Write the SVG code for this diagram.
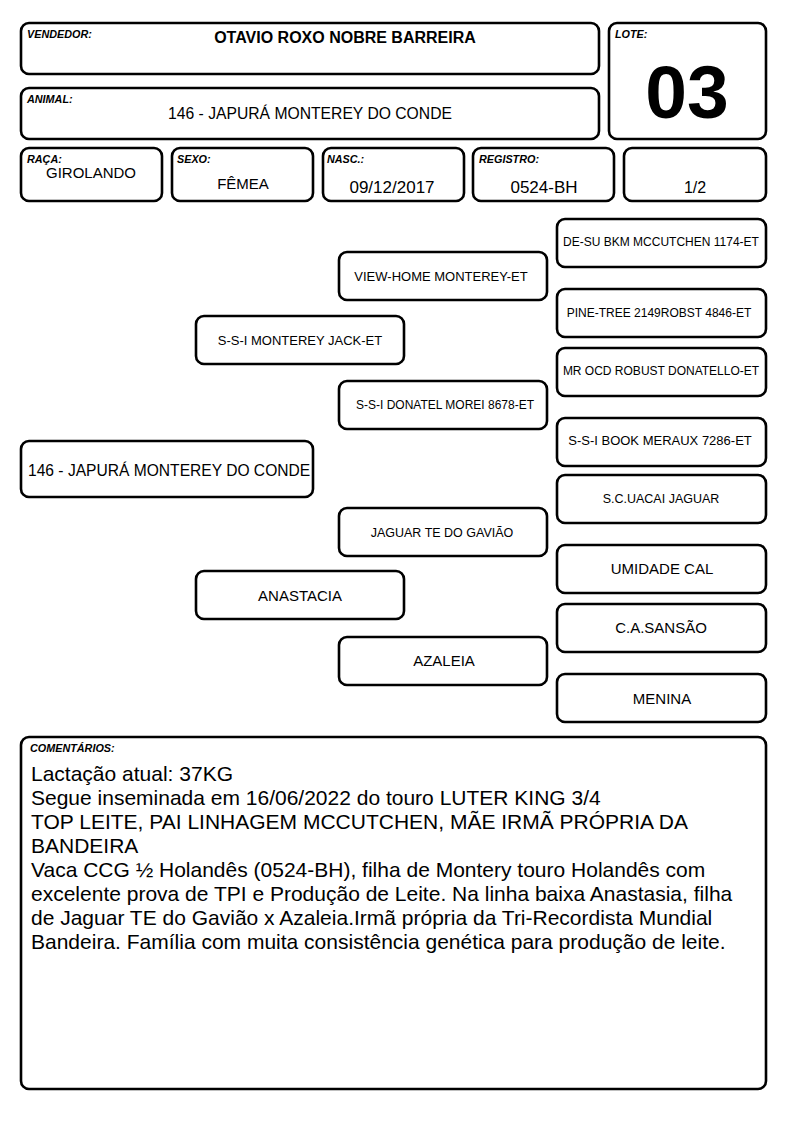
<svg xmlns="http://www.w3.org/2000/svg" width="794" height="1123" viewBox="0 0 794 1123">
<style>
.b{fill:#fff;stroke:#000;stroke-width:2.6}
.lbl{font-family:"Liberation Sans",Arial,sans-serif;font-size:10.8px;font-weight:bold;font-style:italic;fill:#000}
.t{font-family:"Liberation Sans",Arial,sans-serif;fill:#000;text-anchor:middle}
.c{font-family:"Liberation Sans",Arial,sans-serif;fill:#000;font-size:21px}
</style>
<rect width="794" height="1123" fill="#fff"/>
<g id="vendedor"><rect class="b" x="21" y="23" width="578" height="51" rx="8"/><text class="lbl" x="27" y="38">VENDEDOR:</text><text class="t" x="345" y="43" font-size="16" font-weight="bold">OTAVIO ROXO NOBRE BARREIRA</text></g>
<g id="lote"><rect class="b" x="609" y="23" width="157" height="116" rx="8"/><text class="lbl" x="615" y="38">LOTE:</text><text class="t" x="687" y="118" font-size="75" font-weight="bold">03</text></g>
<g id="animal"><rect class="b" x="21" y="88" width="578" height="51" rx="8"/><text class="lbl" x="27" y="103">ANIMAL:</text><text class="t" x="310" y="119" font-size="15.7">146 - JAPURÁ MONTEREY DO CONDE</text></g>
<g id="raca"><rect class="b" x="21" y="148" width="141" height="53" rx="8"/><text class="lbl" x="27" y="163">RAÇA:</text><text class="t" x="91" y="178" font-size="15">GIROLANDO</text></g>
<g id="sexo"><rect class="b" x="172" y="148" width="141" height="53" rx="8"/><text class="lbl" x="177" y="163">SEXO:</text><text class="t" x="243" y="189" font-size="15">FÊMEA</text></g>
<g id="nasc"><rect class="b" x="323" y="148" width="141" height="53" rx="8"/><text class="lbl" x="327" y="163">NASC.:</text><text class="t" x="392" y="193" font-size="17">09/12/2017</text></g>
<g id="registro"><rect class="b" x="473" y="148" width="141" height="53" rx="8"/><text class="lbl" x="479" y="163">REGISTRO:</text><text class="t" x="544" y="193" font-size="17">0524-BH</text></g>
<g id="parte"><rect class="b" x="624" y="148" width="142" height="53" rx="8"/><text class="t" x="695" y="193" font-size="16">1/2</text></g>

<g id="p-animal"><rect class="b" x="21" y="441" width="292" height="56" rx="8"/><text x="28" y="476" font-family="Liberation Sans,Arial,sans-serif" font-size="15.6">146 - JAPURÁ MONTEREY DO CONDE</text></g>
<g id="p-pai"><rect class="b" x="196" y="316" width="208" height="48" rx="8"/><text class="t" x="300" y="345" font-size="13">S-S-I MONTEREY JACK-ET</text></g>
<g id="p-mae"><rect class="b" x="196" y="571" width="208" height="48" rx="8"/><text class="t" x="300" y="601" font-size="15">ANASTACIA</text></g>
<g id="p-avo1"><rect class="b" x="339" y="252" width="208" height="48" rx="8"/><text class="t" x="441" y="281" font-size="13">VIEW-HOME MONTEREY-ET</text></g>
<g id="p-avo2"><rect class="b" x="339" y="381" width="208" height="48" rx="8"/><text class="t" x="445" y="409" font-size="12">S-S-I DONATEL MOREI 8678-ET</text></g>
<g id="p-avo3"><rect class="b" x="339" y="508" width="208" height="48" rx="8"/><text class="t" x="442" y="537" font-size="12.5">JAGUAR TE DO GAVIÃO</text></g>
<g id="p-avo4"><rect class="b" x="339" y="637" width="208" height="48" rx="8"/><text class="t" x="444" y="666" font-size="15">AZALEIA</text></g>
<g id="p-bis1"><rect class="b" x="557" y="219" width="209" height="48" rx="8"/><text class="t" x="661" y="246" font-size="12">DE-SU BKM MCCUTCHEN 1174-ET</text></g>
<g id="p-bis2"><rect class="b" x="557" y="289" width="209" height="48" rx="8"/><text class="t" x="659" y="317" font-size="12">PINE-TREE 2149ROBST 4846-ET</text></g>
<g id="p-bis3"><rect class="b" x="557" y="348" width="209" height="48" rx="8"/><text class="t" x="661" y="375" font-size="12">MR OCD ROBUST DONATELLO-ET</text></g>
<g id="p-bis4"><rect class="b" x="557" y="418" width="209" height="48" rx="8"/><text class="t" x="660" y="445" font-size="13">S-S-I BOOK MERAUX 7286-ET</text></g>
<g id="p-bis5"><rect class="b" x="557" y="475" width="209" height="48" rx="8"/><text class="t" x="661" y="503" font-size="12.5">S.C.UACAI JAGUAR</text></g>
<g id="p-bis6"><rect class="b" x="557" y="545" width="209" height="48" rx="8"/><text class="t" x="662" y="574" font-size="15">UMIDADE CAL</text></g>
<g id="p-bis7"><rect class="b" x="557" y="604" width="209" height="48" rx="8"/><text class="t" x="661" y="633" font-size="15">C.A.SANSÃO</text></g>
<g id="p-bis8"><rect class="b" x="557" y="674" width="209" height="48" rx="8"/><text class="t" x="662" y="704" font-size="15">MENINA</text></g>

<g id="connectors"></g>

<g id="comentarios"><rect class="b" x="21" y="737" width="745" height="352" rx="8"/><text class="lbl" x="30" y="752">COMENTÁRIOS:</text>
<text class="c" x="31" y="781">Lactação atual: 37KG</text>
<text class="c" x="31" y="805">Segue inseminada em 16/06/2022 do touro LUTER KING 3/4</text>
<text class="c" x="31" y="829">TOP LEITE, PAI LINHAGEM MCCUTCHEN, MÃE IRMÃ PRÓPRIA DA</text>
<text class="c" x="31" y="853">BANDEIRA</text>
<text class="c" x="31" y="877">Vaca CCG ½ Holandês (0524-BH), filha de Montery touro Holandês com</text>
<text class="c" x="31" y="901">excelente prova de TPI e Produção de Leite. Na linha baixa Anastasia, filha</text>
<text class="c" x="31" y="925">de Jaguar TE do Gavião x Azaleia.Irmã própria da Tri-Recordista Mundial</text>
<text class="c" x="31" y="949">Bandeira. Família com muita consistência genética para produção de leite.</text>
</g>
</svg>
